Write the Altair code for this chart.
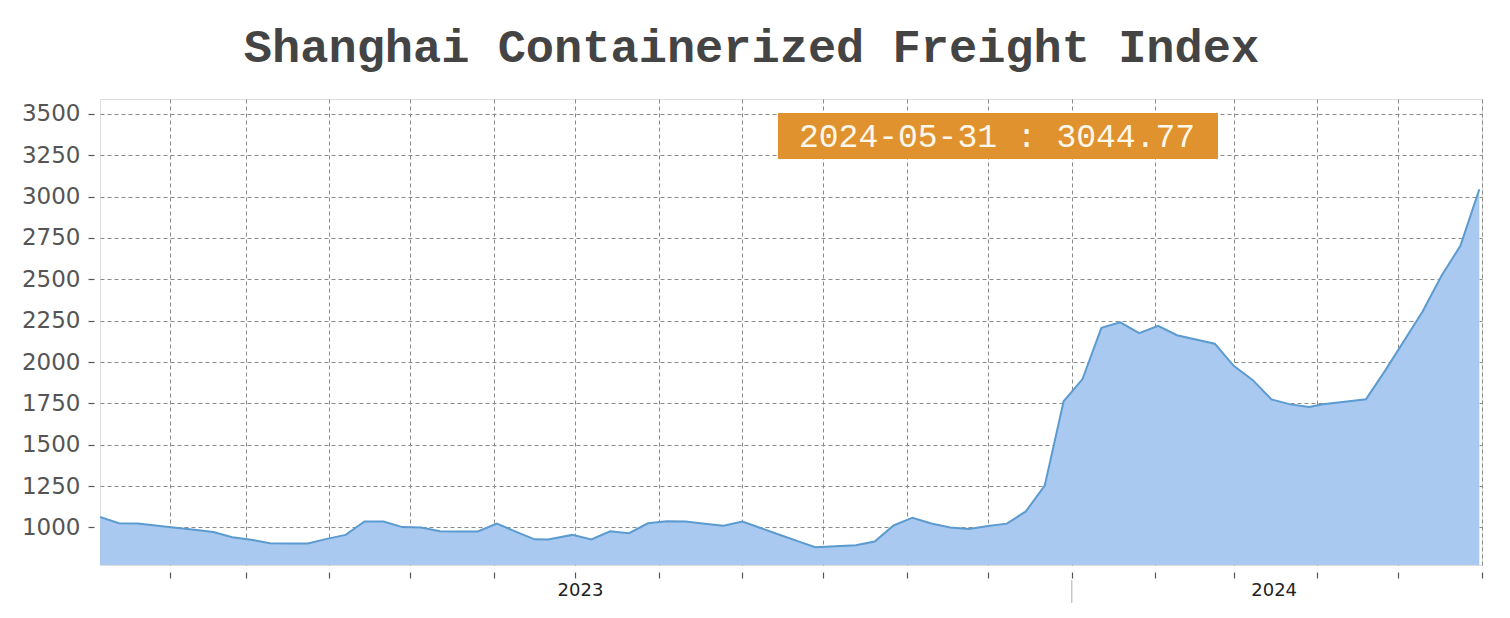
import altair as alt
import pandas as pd

# Weekly SCFI readings
dates = [
    "2023-01-06", "2023-01-13", "2023-01-20", "2023-02-03", "2023-02-10", "2023-02-17", "2023-02-24",
    "2023-03-03", "2023-03-10", "2023-03-17", "2023-03-24", "2023-03-31", "2023-04-07", "2023-04-14",
    "2023-04-21", "2023-04-28", "2023-05-05", "2023-05-12", "2023-05-19", "2023-05-26", "2023-06-02",
    "2023-06-09", "2023-06-16", "2023-06-21", "2023-06-30", "2023-07-07", "2023-07-14", "2023-07-21",
    "2023-07-28", "2023-08-04", "2023-08-11", "2023-08-18", "2023-08-25", "2023-09-01", "2023-09-08",
    "2023-09-15", "2023-09-22", "2023-09-28", "2023-10-13", "2023-10-20", "2023-10-27", "2023-11-03",
    "2023-11-10", "2023-11-17", "2023-11-24", "2023-12-01", "2023-12-08", "2023-12-15", "2023-12-22",
    "2023-12-29", "2024-01-05", "2024-01-12", "2024-01-19", "2024-01-26", "2024-02-02", "2024-02-09",
    "2024-02-23", "2024-03-01", "2024-03-08", "2024-03-15", "2024-03-22", "2024-03-29", "2024-04-03",
    "2024-04-12", "2024-04-19", "2024-04-26", "2024-05-10", "2024-05-17", "2024-05-24", "2024-05-31",
]
values = [
    1063, 1026, 1024, 998, 986, 972, 941,
    926, 904, 903, 903, 931, 955, 1036,
    1036, 1002, 1000, 977, 976, 976, 1024,
    975, 928, 927, 955, 927, 977, 965,
    1025, 1037, 1036, 1023, 1011, 1036, 995,
    954, 914, 880, 893, 915, 1012, 1059,
    1024, 1000, 990, 1009, 1023, 1097, 1253,
    1763, 1897, 2207, 2240, 2175, 2219, 2162,
    2111, 1977, 1892, 1774, 1744, 1728, 1745,
    1762, 1775, 1945, 2305, 2521, 2703, 3044.77,
]

y_ticks = [1000, 1250, 1500, 1750, 2000, 2250, 2500, 2750, 3000, 3250, 3500]
month_ticks = [(2023, m) for m in range(2, 13)] + [(2024, m) for m in range(1, 7)]
year_labels = ["2023", "2024"]
year_label_dates = ["2023-07-03", "2024-03-16"]
year_breaks = ["2024-01-01"]

title_text = "Shanghai Containerized Freight Index"

df = pd.DataFrame({"date": dates, "value": values})
ann = pd.DataFrame({"label": [f"{dates[-1]} : {values[-1]:.2f}"]})
years_df = pd.DataFrame({"date": year_label_dates, "year": year_labels})
breaks_df = pd.DataFrame({"date": year_breaks})
title_df = pd.DataFrame({"t": [title_text]})

x_scale = alt.Scale(
    type="utc",
    domain=[alt.DateTime(year=2023, month=1, date=6, utc=True),
            alt.DateTime(year=2024, month=6, date=1, utc=True)],
)
y_scale = alt.Scale(domain=[773, 3590], nice=False, zero=False)

x_axis = alt.Axis(
    values=[alt.DateTime(year=y, month=m, date=1, utc=True) for y, m in month_ticks],
    labels=False, title=None, domain=False, offset=7, tickSize=6,
    tickColor="#555", tickWidth=1.2,
    grid=True, gridColor="#8a8a8a", gridDash=[4, 3], gridWidth=1,
)
y_axis = alt.Axis(
    values=y_ticks, format="d", title=None, domain=False, offset=6, tickSize=6,
    tickColor="#555", tickWidth=1.2, labelPadding=8,
    labelFont="DejaVu Sans", labelFontSize=23, labelColor="#555",
    grid=True, gridColor="#8a8a8a", gridDash=[4, 3], gridWidth=1,
)

area = alt.Chart(df).mark_area(
    color="#A9C9F1", opacity=1, clip=True, interpolate="linear",
    line={"color": "#5B9BD0", "strokeWidth": 2},
).encode(
    x=alt.X("date:T", scale=x_scale, axis=x_axis),
    y=alt.Y("value:Q", scale=y_scale, axis=y_axis),
)

sep = alt.Chart(breaks_df).mark_rule(color="#c8c8c8", strokeWidth=1.5).encode(
    x=alt.X("date:T"), y=alt.value(481), y2=alt.value(504)
)

year_text = alt.Chart(years_df).mark_text(
    font="DejaVu Sans", fontSize=18, color="#222", align="center", baseline="middle"
).encode(x=alt.X("date:T"), y=alt.value(492), text="year:N")

box = alt.Chart(ann).mark_rect(color="#E0922F").encode(
    x=alt.value(678), x2=alt.value(1118), y=alt.value(14), y2=alt.value(60)
)
box_text = alt.Chart(ann).mark_text(
    font="Liberation Mono", fontSize=33, color="#FFF8EA", align="center", baseline="alphabetic"
).encode(x=alt.value(897), y=alt.value(48), text="label:N")

title = alt.Chart(title_df).mark_text(
    font="Liberation Mono", fontSize=47, fontWeight="bold", color="#444",
    align="center", baseline="alphabetic",
).encode(x=alt.value(651.5), y=alt.value(-37), text="t:N")

chart = alt.layer(area, sep, year_text, box, box_text, title).properties(
    width=1382, height=466,
    autosize=alt.AutoSizeParams(type="none"),
    padding={"left": 92, "top": 91, "right": 20, "bottom": 45},
).configure_view(stroke="#888", strokeWidth=1.5).configure(background="white")

chart.save("out.html", embed_options={"renderer": "svg", "actions": False})
